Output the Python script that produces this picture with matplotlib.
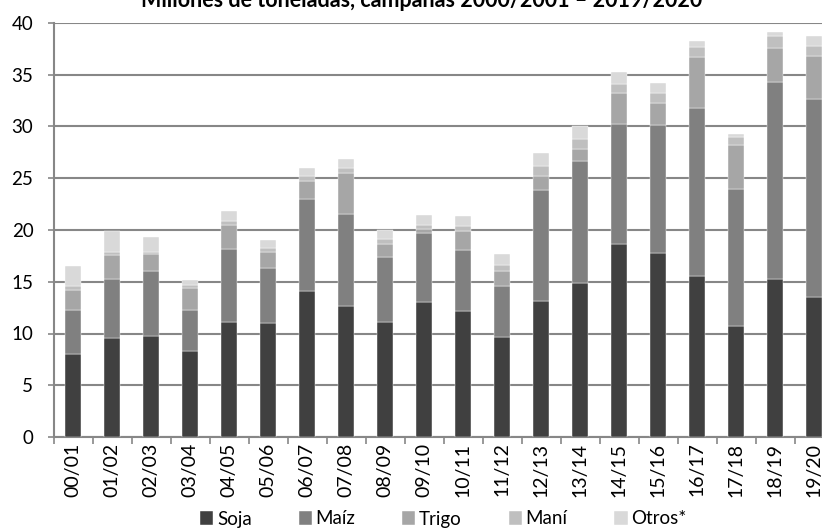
import matplotlib
matplotlib.use("Agg")
import matplotlib.pyplot as plt
import numpy as np

campanas = ["00/01", "01/02", "02/03", "03/04", "04/05", "05/06", "06/07", "07/08", "08/09", "09/10",
            "10/11", "11/12", "12/13", "13/14", "14/15", "15/16", "16/17", "17/18", "18/19", "19/20"]
soja = [8.0, 9.6, 9.8, 8.3, 11.1, 11.0, 14.1, 12.7, 11.1, 13.0,
        12.2, 9.7, 13.1, 14.9, 18.6, 17.8, 15.6, 10.7, 15.3, 13.5]
maiz = [4.3, 5.7, 6.2, 4.0, 7.1, 5.3, 8.9, 8.8, 6.3, 6.7,
        5.9, 4.9, 10.8, 11.8, 11.6, 12.3, 16.2, 13.3, 19.0, 19.2]
trigo = [1.9, 2.3, 1.7, 2.1, 2.3, 1.6, 1.7, 4.0, 1.2, 0.35,
         1.8, 1.4, 1.3, 1.1, 3.0, 2.2, 4.9, 4.2, 3.3, 4.1]
mani = [0.4, 0.3, 0.2, 0.3, 0.4, 0.4, 0.5, 0.5, 0.5, 0.4,
        0.5, 0.6, 1.0, 1.0, 0.9, 0.9, 1.0, 0.8, 1.1, 1.0]
otros = [1.9, 2.0, 1.4, 0.5, 0.9, 0.7, 0.8, 0.9, 0.9, 1.0,
         1.0, 1.1, 1.2, 1.2, 1.2, 1.0, 0.6, 0.3, 0.4, 0.9]

series = [("Soja", soja, "#404040"), ("Maíz", maiz, "#808080"), ("Trigo", trigo, "#a6a6a6"),
          ("Maní", mani, "#bfbfbf"), ("Otros*", otros, "#d9d9d9")]

plt.rcParams['font.family'] = ['Lato', 'DejaVu Sans']
grid_col = "#878787"

fig = plt.figure(figsize=(8.22, 5.31), dpi=100)
ax = fig.add_axes([53.5 / 822, 94 / 531, 780 / 822, 414 / 531])

x = np.arange(len(campanas))
bottom = np.zeros(len(campanas))
for name, vals, col in series:
    ax.bar(x, vals, width=0.4, bottom=bottom, color=col, label=name, zorder=3,
           edgecolor="white", linewidth=0.3)
    bottom += np.array(vals)

ax.set_xlim(-0.5, len(campanas) - 0.5)
ax.set_ylim(0, 40)
ax.set_yticks(range(0, 41, 5))
ax.yaxis.grid(True, color=grid_col, lw=1.5, zorder=0)
ax.set_xticks(x)
ax.set_xticklabels(campanas, rotation=90, fontsize=14)
ax.set_xticks(np.arange(-0.5, len(campanas), 1), minor=True)
ax.tick_params(axis='x', which='major', length=0, pad=4)
ax.tick_params(axis='x', which='minor', length=5, color=grid_col, width=1.2)
ax.tick_params(axis='y', labelsize=13.5, length=4.5, color=grid_col, width=1.2, pad=10)

for s in ["top", "right"]:
    ax.spines[s].set_visible(False)
for s in ["left", "bottom"]:
    ax.spines[s].set_color(grid_col)
    ax.spines[s].set_linewidth(1.5)

fig.text(0.513, 1 - 7 / 531, "Millones de toneladas, campañas 2000/2001 – 2019/2020",
         ha="center", va="baseline", fontsize=15.5, fontweight="bold")

ax.legend(loc="center left", bbox_to_anchor=(200 / 822, 1 - 519 / 531), bbox_transform=fig.transFigure,
          ncol=5, frameon=False, fontsize=13.5, handlelength=0.7, handleheight=0.7,
          handletextpad=0.2, columnspacing=2.5, borderaxespad=0, borderpad=0)

plt.savefig("out.png", dpi=100)
